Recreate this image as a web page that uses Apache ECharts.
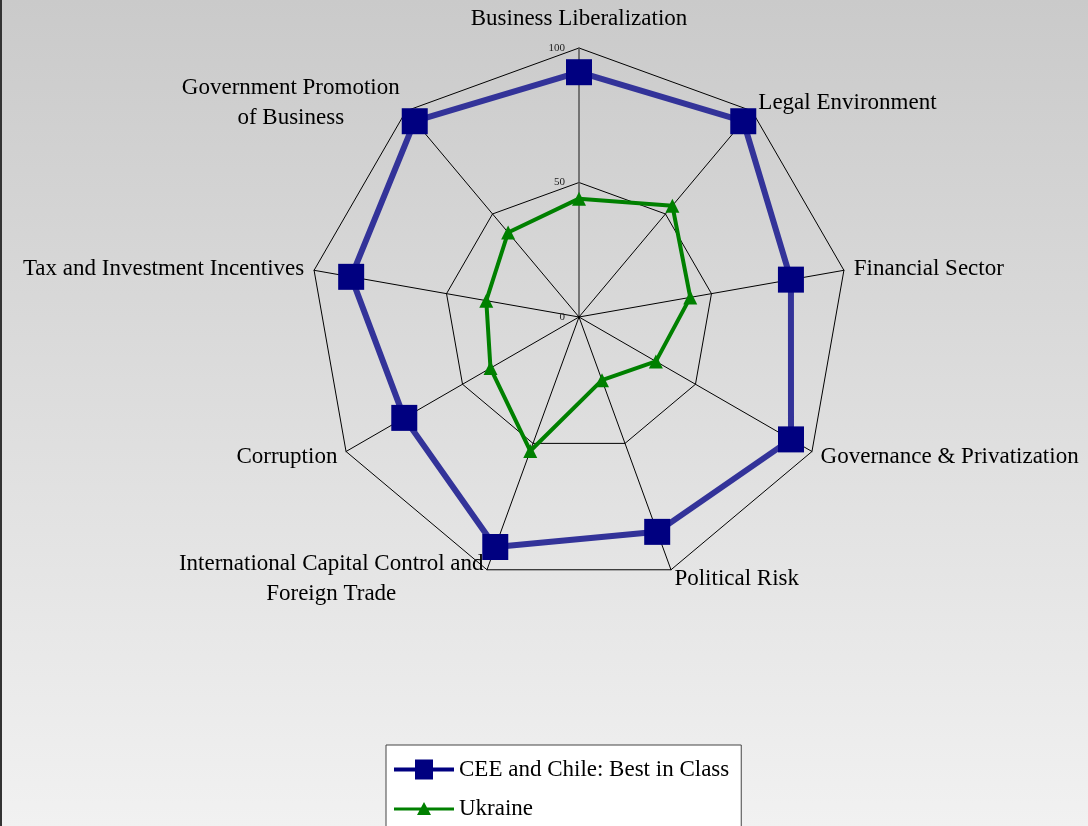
<!DOCTYPE html>
<html>
<head>
<meta charset="utf-8">
<script src="https://cdn.jsdelivr.net/npm/echarts@6/dist/echarts.min.js"></script>
<style>
  html, body { margin: 0; padding: 0; }
  #main { width: 1086px; height: 826px; border-left: 2px solid #333; }
</style>
</head>
<body>
<div id="main"></div>
<script>
// indicators, in the order echarts lays them out (counter-clockwise from the top)
const categories = [
  'Business Liberalization',
  'Government Promotion\nof Business',
  'Tax and Investment Incentives',
  'Corruption',
  'International Capital Control and\nForeign Trade',
  'Political Risk',
  'Governance & Privatization',
  'Financial Sector',
  'Legal Environment'
]
const bestInClass = [91, 95, 86, 75, 91, 85, 91, 80, 95]
const ukraine = [44, 41, 35, 38, 53, 25, 33, 42, 54]
const seriesNames = ['CEE and Chile: Best in Class', 'Ukraine']

const serif = 'Liberation Serif'
const nameSize = 23

// legend icons: line with the marker in the middle
const iconSquare = 'path://M0,8H60V12H0Z M21,0H39V20H21Z'
const iconTriangle = 'path://M0,8.5H60V11.5H0Z M30,3L37,16H23Z'

const myChart = echarts.init(document.getElementById('main'))

const indicator = categories.map(function (name, i) {
  const ind = { name: name, max: 100, min: 0 }
  if (i === 0) {
    // only the top axis carries the 0 / 50 / 100 labels
    ind.axisLabel = { show: true }
    ind.axisLine = { lineStyle: { color: '#555', width: 1.5 } }
  }
  return ind
})

const option = {
  backgroundColor: {
    type: 'linear', x: 0, y: 0, x2: 0, y2: 1,
    colorStops: [
      { offset: 0, color: '#cacaca' },
      { offset: 1, color: '#f1f1f1' }
    ]
  },
  animation: false,
  legend: {
    data: [
      { name: seriesNames[0], icon: iconSquare },
      { name: seriesNames[1], icon: iconTriangle }
    ],
    orient: 'vertical',
    left: 384,
    top: 745,
    height: 90,
    padding: [13, 12, 13, 8],
    itemGap: 16,
    itemWidth: 60,
    itemHeight: 20,
    symbolKeepAspect: true,
    backgroundColor: '#fff',
    borderColor: '#444',
    borderWidth: 1,
    borderRadius: 0,
    textStyle: { fontFamily: serif, fontSize: 23, color: '#000' }
  },
  radar: {
    center: [577, 317],
    radius: 269,
    startAngle: 90,
    splitNumber: 2,
    shape: 'polygon',
    nameGap: 10,
    indicator: indicator,
    axisName: {
      color: '#000',
      fontFamily: serif,
      fontSize: nameSize,
      formatter: function (name) {
        if (name === categories[0]) return '{t|' + name + '}'
        return name.split('\n').map(function (s) { return '{c|' + s + '}' }).join('\n')
      },
      rich: {
        t: { fontFamily: serif, fontSize: nameSize, color: '#000', padding: [0, 0, 8, 0] },
        c: { fontFamily: serif, fontSize: nameSize, color: '#000', align: 'center', lineHeight: 30 }
      }
    },
    axisLine: { lineStyle: { color: '#000', width: 1 } },
    splitLine: { lineStyle: { color: '#000', width: 1 } },
    splitArea: { show: false },
    axisTick: { show: false },
    axisLabel: {
      show: false,
      margin: 14,
      fontFamily: serif,
      fontSize: 11,
      color: '#222'
    }
  },
  series: [
    {
      type: 'radar',
      name: seriesNames[0],
      symbol: 'rect',
      symbolSize: 26,
      itemStyle: { color: '#000080' },
      lineStyle: { color: '#333399', width: 6 },
      data: [{ name: seriesNames[0], value: bestInClass }],
      z: 3
    },
    {
      type: 'radar',
      name: seriesNames[1],
      symbol: 'triangle',
      symbolSize: 14,
      itemStyle: { color: '#008000' },
      lineStyle: { color: '#008000', width: 4 },
      data: [{ name: seriesNames[1], value: ukraine }],
      z: 2
    }
  ]
}

myChart.setOption(option)
</script>
</body>
</html>
